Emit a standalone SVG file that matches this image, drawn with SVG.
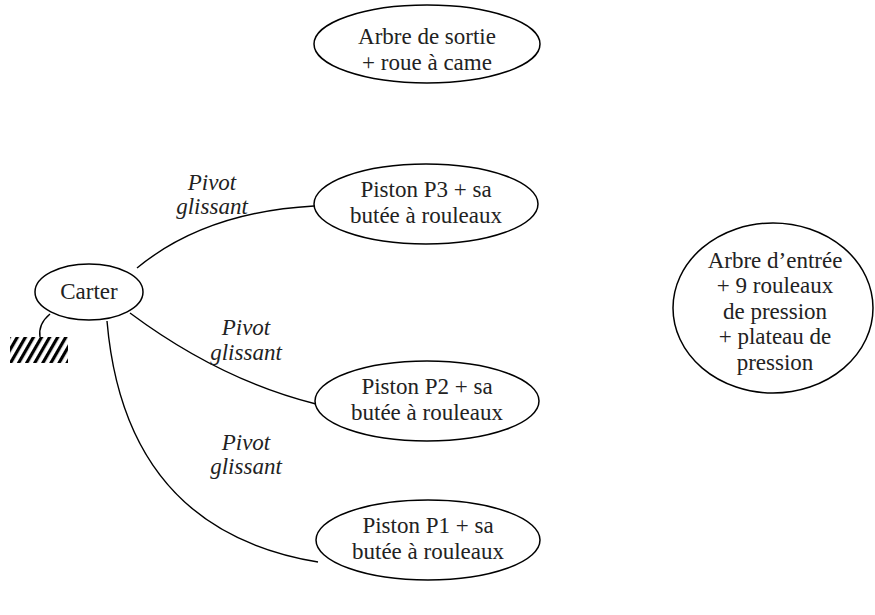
<svg xmlns="http://www.w3.org/2000/svg" width="875" height="615" viewBox="0 0 875 615">
  <style>
    .node ellipse { fill: #ffffff; stroke: #000000; stroke-width: 1.5; }
    .lbl, .link { font-family: "Liberation Serif", "Times New Roman", Times, serif; font-size: 23px; fill: #222222; text-anchor: middle; }
    .link { font-style: italic; }
    #connectors path { fill: none; stroke: #000000; stroke-width: 1.4; }
  </style>
  <defs>
    <!-- diagonal hatching for the fixed frame symbol -->
    <pattern id="hatch" width="7" height="7" patternUnits="userSpaceOnUse" patternTransform="rotate(30)">
      <rect x="0" y="0" width="3.2" height="7" fill="#000000"/>
    </pattern>
  </defs>

  <rect width="875" height="615" fill="#ffffff"/>

  <!-- ground symbol under the housing -->
  <g id="ground">
    <rect x="10" y="337" width="58" height="26" fill="url(#hatch)"/>
  </g>

  <g id="connectors">
    <path d="M50,314 Q38,324 40,337"/>
    <path d="M137,268 Q205,212 314,206"/>
    <path d="M130,313 Q220,380 316,404"/>
    <path d="M107,321 Q125,530 318,562"/>
  </g>

  <g id="link-labels">
    <text class="link" x="212" y="190">Pivot</text>
    <text class="link" x="212" y="214">glissant</text>
    <text class="link" x="246" y="335">Pivot</text>
    <text class="link" x="246" y="360">glissant</text>
    <text class="link" x="246" y="450">Pivot</text>
    <text class="link" x="246" y="474">glissant</text>
  </g>

  <g id="arbre-sortie" class="node">
    <ellipse cx="427" cy="44" rx="113" ry="39"/>
    <text class="lbl" x="427" y="44">Arbre de sortie</text>
    <text class="lbl" x="427" y="70">+ roue à came</text>
  </g>

  <g id="carter" class="node">
    <ellipse cx="89" cy="292" rx="54" ry="28"/>
    <text class="lbl" x="89" y="299">Carter</text>
  </g>

  <g id="piston-p3" class="node">
    <ellipse cx="426" cy="204" rx="112" ry="40"/>
    <text class="lbl" x="426" y="197">Piston P3 + sa</text>
    <text class="lbl" x="426" y="223">butée à rouleaux</text>
  </g>

  <g id="piston-p2" class="node">
    <ellipse cx="427" cy="401" rx="112" ry="40"/>
    <text class="lbl" x="427" y="394">Piston P2 + sa</text>
    <text class="lbl" x="427" y="420">butée à rouleaux</text>
  </g>

  <g id="piston-p1" class="node">
    <ellipse cx="428" cy="540" rx="112" ry="40"/>
    <text class="lbl" x="428" y="533">Piston P1 + sa</text>
    <text class="lbl" x="428" y="559">butée à rouleaux</text>
  </g>

  <g id="arbre-entree" class="node">
    <ellipse cx="773" cy="308" rx="100" ry="85"/>
    <text class="lbl" x="775" y="268">Arbre d’entrée</text>
    <text class="lbl" x="775" y="293">+ 9 rouleaux</text>
    <text class="lbl" x="775" y="319">de pression</text>
    <text class="lbl" x="775" y="344">+ plateau de</text>
    <text class="lbl" x="775" y="370">pression</text>
  </g>
</svg>
